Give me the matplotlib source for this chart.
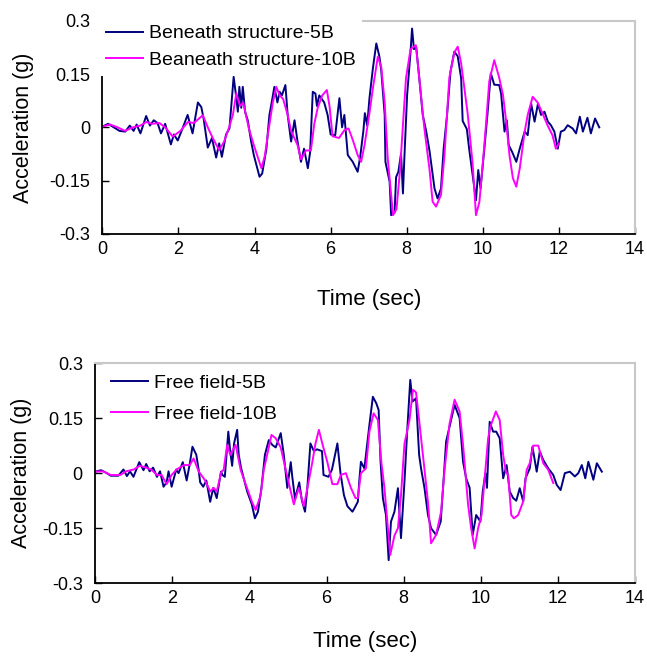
import matplotlib
matplotlib.use("Agg")
import matplotlib.pyplot as plt

plt.rcParams["font.family"] = ["Liberation Sans", "DejaVu Sans"]

# ------------------------------
# Data (time in s, acceleration in g)
# ------------------------------
t_bs5 = [0.0, 0.15, 0.3, 0.45, 0.6, 0.72, 0.82, 0.9, 1.0, 1.15, 1.25, 1.35, 1.45, 1.54, 1.65, 1.8, 1.88,
         1.98, 2.1, 2.24, 2.37, 2.51, 2.6, 2.66, 2.77, 2.88, 2.99, 3.07, 3.14, 3.25, 3.34, 3.45, 3.5, 3.56,
         3.6, 3.65, 3.69, 3.75, 3.82, 3.91, 3.98, 4.13, 4.2, 4.31, 4.39, 4.45, 4.52, 4.6, 4.66, 4.72, 4.81,
         4.87, 4.96, 5.05, 5.13, 5.22, 5.3, 5.4, 5.46, 5.53, 5.6, 5.64, 5.7, 5.83, 5.92, 6.0, 6.12, 6.23,
         6.3, 6.36, 6.45, 6.58, 6.71, 6.78, 6.86, 6.9, 6.96, 7.02, 7.11, 7.2, 7.28, 7.33, 7.42, 7.44, 7.55,
         7.59, 7.68, 7.72, 7.78, 7.85, 7.9, 7.94, 8.01, 8.1, 8.14, 8.19, 8.25, 8.33, 8.42, 8.51, 8.6, 8.73,
         8.81, 8.9, 8.97, 9.06, 9.15, 9.25, 9.34, 9.43, 9.47, 9.58, 9.64, 9.78, 9.82, 9.88, 9.94, 10.04,
         10.12, 10.21, 10.3, 10.43, 10.48, 10.57, 10.63, 10.68, 10.77, 10.88, 10.97, 11.1, 11.18, 11.27,
         11.36, 11.45, 11.53, 11.62, 11.71, 11.79, 11.88, 11.97, 12.05, 12.14, 12.23, 12.36, 12.45, 12.55,
         12.63, 12.75, 12.84, 12.95, 13.06]
a_bs5 = [0.002, 0.01, 0.0, -0.01, -0.012, 0.005, -0.01, 0.008, -0.017, 0.032, 0.005, 0.02, 0.012, -0.017,
         0.01, -0.048, -0.02, -0.037, -0.005, 0.035, -0.017, 0.07, 0.057, 0.025, -0.057, -0.03, -0.085,
         -0.045, -0.083, -0.02, -0.003, 0.142, 0.1, 0.044, 0.114, 0.055, 0.114, 0.044, 0.02, -0.04, -0.078,
         -0.139, -0.13, -0.061, 0.035, 0.07, 0.114, 0.07, 0.1, 0.09, 0.119, 0.035, -0.04, 0.02, -0.04,
         -0.097, -0.06, -0.115, -0.07, 0.1, 0.095, 0.06, 0.09, 0.07, 0.035, -0.02, -0.022, 0.082, 0.0,
         0.035, -0.078, -0.097, -0.125, -0.08, -0.01, 0.04, 0.005, 0.082, 0.166, 0.236, 0.2, 0.16, 0.035,
         -0.097, -0.153, -0.247, -0.24, -0.14, -0.125, -0.074, -0.186, -0.08, 0.091, 0.213, 0.278, 0.22,
         0.225, 0.138, 0.035, -0.01, -0.067, -0.172, -0.2, -0.172, -0.06, 0.035, 0.157, 0.213, 0.2, 0.138,
         0.018, -0.005, -0.06, -0.172, -0.205, -0.12, -0.172, -0.06, 0.035, 0.152, 0.12, 0.119, 0.095,
         -0.012, 0.02, -0.05, -0.069, -0.097, -0.06, -0.012, -0.022, 0.067, 0.016, 0.067, 0.035, 0.044,
         0.016, 0.006, -0.012, -0.06, -0.012, -0.008, 0.006, -0.003, -0.017, 0.03, -0.012, 0.027, -0.017,
         0.025, 0.0]

t_bs10 = [0.0, 0.2, 0.4, 0.6, 0.8, 1.0, 1.15, 1.3, 1.5, 1.65, 1.85, 2.05, 2.25, 2.4, 2.64, 2.77, 2.9, 3.07,
          3.2, 3.33, 3.43, 3.52, 3.62, 3.7, 3.85, 3.98, 4.18, 4.27, 4.35, 4.48, 4.57, 4.66, 4.75, 4.87, 4.96,
          5.13, 5.22, 5.35, 5.48, 5.57, 5.66, 5.78, 5.9, 5.97, 6.05, 6.22, 6.36, 6.47, 6.58, 6.71, 6.8, 6.89,
          7.02, 7.11, 7.24, 7.33, 7.42, 7.5, 7.64, 7.73, 7.82, 7.9, 7.98, 8.1, 8.24, 8.33, 8.46, 8.6, 8.68,
          8.77, 8.9, 8.99, 9.12, 9.25, 9.34, 9.43, 9.6, 9.73, 9.82, 9.91, 10.04, 10.17, 10.3, 10.43, 10.53,
          10.61, 10.7, 10.79, 10.88, 10.97, 11.1, 11.18, 11.31, 11.44, 11.57, 11.7, 11.83, 11.92, 12.0]
a_bs10 = [0.002, 0.008, 0.0, -0.01, 0.0, 0.005, 0.015, 0.01, 0.012, 0.0, -0.026, -0.01, 0.015, 0.012,
          0.034, 0.0, -0.03, -0.064, -0.04, 0.0, 0.035, 0.096, 0.06, 0.07, -0.003, -0.05, -0.115, -0.08,
          -0.02, 0.07, 0.114, 0.09, 0.08, 0.035, -0.01, -0.05, -0.09, -0.065, -0.065, 0.01, 0.055, 0.09,
          0.105, 0.06, -0.025, -0.03, -0.008, -0.003, -0.035, -0.078, -0.097, -0.05, 0.04, 0.11, 0.199, 0.17,
          0.07, -0.087, -0.247, -0.23, -0.125, 0.006, 0.138, 0.22, 0.231, 0.138, 0.0, -0.12, -0.209, -0.223,
          -0.19, -0.08, 0.14, 0.21, 0.227, 0.18, 0.04, -0.1, -0.247, -0.21, -0.05, 0.13, 0.189, 0.14, 0.091,
          0.02, -0.078, -0.143, -0.167, -0.116, -0.012, 0.035, 0.086, 0.07, 0.039, 0.006, -0.022, -0.06,
          -0.045]

t_ff5 = [0.0, 0.15, 0.3, 0.4, 0.6, 0.73, 0.82, 0.9, 0.99, 1.14, 1.25, 1.32, 1.41, 1.5, 1.6, 1.68, 1.77,
         1.85, 1.9, 1.98, 2.1, 2.16, 2.27, 2.37, 2.45, 2.52, 2.62, 2.68, 2.72, 2.8, 2.88, 2.98, 3.06, 3.15,
         3.26, 3.3, 3.36, 3.45, 3.5, 3.55, 3.6, 3.68, 3.72, 3.78, 3.84, 3.94, 4.06, 4.14, 4.22, 4.31, 4.4,
         4.5, 4.59, 4.68, 4.81, 4.89, 4.98, 5.07, 5.11, 5.18, 5.29, 5.36, 5.44, 5.5, 5.58, 5.67, 5.75, 5.88,
         5.92, 6.05, 6.14, 6.28, 6.36, 6.45, 6.54, 6.67, 6.72, 6.81, 6.85, 6.89, 6.98, 7.07, 7.11, 7.2, 7.29,
         7.35, 7.4, 7.46, 7.54, 7.61, 7.67, 7.76, 7.85, 7.93, 8.02, 8.09, 8.17, 8.23, 8.32, 8.4, 8.45, 8.54,
         8.63, 8.71, 8.84, 8.96, 9.02, 9.1, 9.23, 9.32, 9.45, 9.54, 9.62, 9.71, 9.79, 9.88, 9.99, 10.05,
         10.12, 10.16, 10.23, 10.32, 10.4, 10.49, 10.58, 10.67, 10.75, 10.84, 10.92, 11.01, 11.1, 11.16,
         11.27, 11.34, 11.45, 11.53, 11.62, 11.75, 11.88, 11.97, 12.07, 12.18, 12.31, 12.44, 12.53, 12.62,
         12.71, 12.79, 12.92, 13.01, 13.14]
a_ff5 = [0.004, 0.008, 0.0, -0.007, -0.007, 0.01, -0.008, 0.005, -0.01, 0.03, 0.008, 0.025, 0.005, 0.015,
         -0.01, 0.005, -0.037, -0.025, 0.005, -0.037, 0.01, 0.0, 0.03, -0.02, 0.025, 0.072, 0.05, 0.01,
         -0.025, -0.037, -0.02, -0.078, -0.04, -0.068, 0.004, -0.005, -0.01, 0.113, 0.059, 0.02, 0.081,
         0.118, 0.05, 0.015, -0.01, -0.05, -0.085, -0.123, -0.105, -0.04, 0.05, 0.09, 0.077, 0.07, 0.109,
         0.05, -0.04, 0.03, -0.01, -0.07, -0.025, -0.075, -0.105, -0.04, 0.081, 0.06, 0.065, 0.06, -0.005,
         -0.01, 0.01, 0.081, 0.0, -0.06, -0.09, -0.105, -0.096, -0.078, -0.018, 0.031, 0.013, 0.095, 0.131,
         0.208, 0.19, 0.172, 0.031, -0.068, -0.114, -0.237, -0.132, -0.105, -0.041, -0.177, -0.023, 0.113,
         0.254, 0.195, 0.204, 0.05, 0.013, -0.041, -0.114, -0.15, -0.168, -0.132, -0.041, 0.086, 0.145,
         0.186, 0.15, 0.031, -0.014, -0.04, -0.168, -0.114, -0.132, -0.05, 0.0, -0.04, 0.14, 0.113, 0.113,
         0.095, -0.014, 0.022, -0.05, -0.068, -0.075, -0.041, -0.077, -0.014, 0.013, 0.072, 0.004, 0.059,
         0.036, 0.013, -0.005, -0.032, -0.046, 0.0, 0.004, -0.009, 0.0, 0.022, -0.014, 0.031, -0.018, 0.027,
         0.004]

t_ff10 = [0.0, 0.2, 0.4, 0.65, 0.8, 1.0, 1.15, 1.32, 1.45, 1.6, 1.72, 1.85, 1.98, 2.11, 2.3, 2.45, 2.55,
          2.68, 2.85, 2.98, 3.07, 3.15, 3.27, 3.33, 3.42, 3.5, 3.64, 3.77, 3.9, 4.07, 4.16, 4.29, 4.37, 4.5,
          4.57, 4.68, 4.81, 4.94, 5.07, 5.15, 5.28, 5.41, 5.54, 5.63, 5.71, 5.8, 5.89, 6.02, 6.15, 6.28,
          6.37, 6.5, 6.63, 6.75, 6.81, 6.89, 7.02, 7.11, 7.22, 7.33, 7.42, 7.5, 7.59, 7.65, 7.76, 7.85, 7.93,
          8.02, 8.15, 8.24, 8.32, 8.41, 8.54, 8.63, 8.71, 8.84, 8.97, 9.06, 9.19, 9.32, 9.45, 9.54, 9.67,
          9.75, 9.84, 9.93, 10.02, 10.1, 10.19, 10.25, 10.39, 10.49, 10.58, 10.65, 10.71, 10.79, 10.86, 10.97,
          11.1, 11.19, 11.27, 11.36, 11.49, 11.62, 11.75, 11.88]
a_ff10 = [0.004, 0.005, -0.005, -0.005, 0.005, 0.01, 0.02, 0.015, 0.01, -0.005, -0.005, -0.03, -0.005,
          0.01, 0.022, 0.022, 0.04, 0.005, -0.02, -0.05, -0.04, -0.05, 0.004, 0.009, 0.077, 0.05, 0.077,
          0.009, -0.03, -0.08, -0.1, -0.06, 0.009, 0.07, 0.104, 0.095, 0.07, 0.009, -0.05, -0.085, -0.04,
          -0.09, -0.02, 0.03, 0.08, 0.118, 0.08, 0.03, -0.03, -0.03, -0.005, 0.0, -0.04, -0.068, -0.068, 0.0,
          0.013, 0.113, 0.163, 0.145, 0.03, -0.04, -0.15, -0.223, -0.17, -0.15, -0.06, 0.08, 0.145, 0.227,
          0.22, 0.135, 0.009, -0.08, -0.191, -0.168, -0.105, 0.009, 0.135, 0.2, 0.168, 0.077, -0.086, -0.15,
          -0.205, -0.15, -0.114, -0.014, 0.095, 0.127, 0.168, 0.145, 0.05, 0.004, -0.005, -0.114, -0.123,
          -0.114, -0.077, 0.009, 0.027, 0.075, 0.075, 0.027, 0.009, -0.027]

y_ticks = [-0.3, -0.15, 0, 0.15, 0.3]
y_labels = ["-0.3", "-0.15", "0", "0.15", "0.3"]
x_ticks = [0, 2, 4, 6, 8, 10, 12, 14]

NAVY = "#000080"
MAGENTA = "#FF00FF"
GRAY = "#c8c8c8"


def style_axes(ax, xpad, ypad):
    ax.set_xlim(0, 14)
    ax.set_ylim(-0.3, 0.3)
    ax.set_yticks(y_ticks)
    ax.set_yticklabels(y_labels)
    ax.set_xticks(x_ticks)
    ax.tick_params(direction="in", length=5, width=1, labelsize=13, color="black")
    ax.tick_params(axis="y", pad=9)
    ax.tick_params(axis="x", pad=5)
    for s in ["left", "bottom"]:
        ax.spines[s].set_color("black")
        ax.spines[s].set_linewidth(1.3)
    for s in ["top", "right"]:
        ax.spines[s].set_color(GRAY)
        ax.spines[s].set_linewidth(1.5)
    ax.set_xlabel("Time (sec)", fontsize=16, labelpad=xpad)
    ax.set_ylabel("Acceleration (g)", fontsize=15.5, labelpad=ypad)


fig = plt.figure(figsize=(6.47, 6.56), dpi=100)

# top panel: beneath structure
ax1 = fig.add_axes([102.4 / 647, 1 - 234 / 656, (635 - 102.4) / 647, (234 - 20.7) / 656])
ax1.plot(t_bs5, a_bs5, color=NAVY, lw=1.4, label="Beneath structure-5B")
ax1.plot(t_bs10, a_bs10, color=MAGENTA, lw=1.4, label="Beaneath structure-10B")
style_axes(ax1, 22, 11)
leg1 = ax1.legend(loc="upper left", bbox_to_anchor=(99 / 647, 1 - 18 / 656), bbox_transform=fig.transFigure,
                  fontsize=14, frameon=True, facecolor="white", edgecolor="none", framealpha=1,
                  fancybox=False, handlelength=1.9, handletextpad=0.3, labelspacing=0.45,
                  borderpad=0.35, borderaxespad=0)
leg1.set_zorder(10)

# bottom panel: free field
ax2 = fig.add_axes([95.3 / 647, 1 - 583.3 / 656, (635 - 95.3) / 647, (583.3 - 363) / 656])
ax2.plot(t_ff5, a_ff5, color=NAVY, lw=1.4, label="Free field-5B")
ax2.plot(t_ff10, a_ff10, color=MAGENTA, lw=1.4, label="Free field-10B")
style_axes(ax2, 17, 7)
ax2.legend(loc="upper left", bbox_to_anchor=(111 / 647, 1 - 374 / 656), bbox_transform=fig.transFigure,
           fontsize=14, frameon=False, handlelength=1.9, handletextpad=0.3, labelspacing=0.7,
           borderpad=0, borderaxespad=0)

fig.savefig("out.png", dpi=100)
